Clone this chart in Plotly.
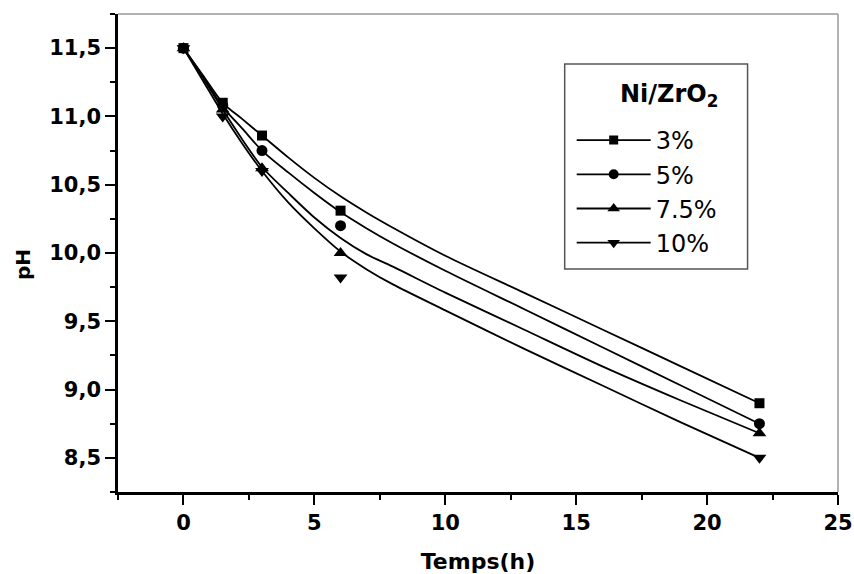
import plotly.graph_objects as go

# Measured data points
time_h = [0, 1.5, 3, 6, 22]
ph_3 = [11.5, 11.10, 10.86, 10.31, 8.90]
ph_5 = [11.5, 11.08, 10.75, 10.20, 8.75]
ph_75 = [11.5, 11.05, 10.62, 10.00, 8.68]
ph_10 = [11.5, 11.00, 10.60, 9.82, 8.50]

# Fitted curves at selected times
curve_t = [0, 0.75, 1.5, 2.25, 3, 4, 5, 6, 7, 8, 10, 13, 16, 19, 22]
curve_3 = [11.5, 11.30, 11.10, 10.98, 10.86, 10.70, 10.55, 10.415, 10.295, 10.185, 9.98, 9.71, 9.44, 9.17, 8.90]
curve_5 = [11.5, 11.29, 11.07, 10.91, 10.75, 10.59, 10.44, 10.30, 10.18, 10.07, 9.87, 9.59, 9.31, 9.03, 8.75]
curve_75 = [11.5, 11.28, 11.05, 10.83, 10.63, 10.44, 10.26, 10.11, 9.99, 9.90, 9.71, 9.44, 9.17, 8.92, 8.68]
curve_10 = [11.5, 11.26, 11.02, 10.80, 10.60, 10.37, 10.18, 10.01, 9.88, 9.77, 9.58, 9.30, 9.03, 8.76, 8.50]

labels = ["3%", "5%", "7.5%", "10%"]
symbols = ["square", "circle", "triangle-up", "triangle-down"]
sizes = [10, 11, 12, 12]
points = [ph_3, ph_5, ph_75, ph_10]
curves = [curve_3, curve_5, curve_75, curve_10]

FONT = "DejaVu Sans"
fig = go.Figure()
for lab, sym, sz, pts, cur in zip(labels, symbols, sizes, points, curves):
    fig.add_trace(go.Scatter(x=curve_t, y=cur, mode="lines",
                             line=dict(color="black", width=1.8, shape="spline", smoothing=0.8),
                             showlegend=False, hoverinfo="skip"))
    fig.add_trace(go.Scatter(x=time_h, y=pts, mode="markers", marker=dict(symbol=sym, size=sz, color="black"),
                             showlegend=False, name=lab))
    fig.add_trace(go.Scatter(x=[None], y=[None], mode="lines+markers", name=lab, legendgroup=lab,
                             line=dict(color="black", width=1.8), marker=dict(symbol=sym, size=sz - 1, color="black")))

L, R, T, B = 118, 15.5, 14, 82
W, H = 854, 574
pw, ph = W - L - R, H - T - B


def px(xp):
    return (xp - L) / pw


def py(yp):
    return (H - B - yp) / ph


fig.update_layout(
    width=W, height=H,
    margin=dict(l=L, r=R, t=T, b=B, autoexpand=False),
    paper_bgcolor="white", plot_bgcolor="white",
    separators=", ",
    font=dict(family=FONT, color="black"),
    showlegend=True,
    legend=dict(
        x=px(572), y=py(118), xanchor="left", yanchor="top",
        borderwidth=0, bgcolor="rgba(0,0,0,0)",
        font=dict(family=FONT, size=24, color="black"),
        itemwidth=74, tracegroupgap=0,
    ),
    xaxis=dict(
        range=[-2.5, 25], tick0=0, dtick=5, ticks="outside", ticklen=10, tickwidth=2, tickcolor="black",
        showline=True, linecolor="black", linewidth=2.5, showgrid=False, zeroline=False, automargin=False,
        tickfont=dict(family=FONT, size=21, color="black", weight="bold"),
        minor=dict(dtick=2.5, tick0=0, ticks="outside", ticklen=5, tickwidth=2, tickcolor="black", showgrid=False),
        title=dict(text="<b>Temps(h)</b>", font=dict(family=FONT, size=22, color="black"), standoff=22),
    ),
    yaxis=dict(
        range=[8.25, 11.75], tick0=8.5, dtick=0.5, tickformat=".1f", ticks="outside", ticklen=10, tickwidth=2,
        tickcolor="black", showline=True, linecolor="black", linewidth=2.5, showgrid=False, zeroline=False,
        automargin=False,
        tickfont=dict(family=FONT, size=21, color="black", weight="bold"),
        minor=dict(dtick=0.25, tick0=8.5, ticks="outside", ticklen=5, tickwidth=2, tickcolor="black", showgrid=False),
    ),
    shapes=[
        dict(type="line", xref="paper", yref="paper", x0=0, x1=1, y0=1, y1=1, line=dict(color="#999", width=1.5)),
        dict(type="line", xref="paper", yref="paper", x0=1, x1=1, y0=0, y1=1, line=dict(color="#999", width=1.5)),
        dict(type="rect", xref="paper", yref="paper", x0=px(565), x1=px(748), y0=py(269), y1=py(64),
             line=dict(color="#555", width=1.5), fillcolor="rgba(0,0,0,0)"),
    ],
    annotations=[
        dict(text="<b>pH</b>", xref="paper", yref="paper", x=px(23), y=py(265),
             showarrow=False, textangle=-90, font=dict(family=FONT, size=20, color="black"),
             xanchor="center", yanchor="middle"),
        dict(text="<b>Ni/ZrO<sub>2</sub></b>", xref="paper", yref="paper", x=px(669), y=py(96),
             showarrow=False, font=dict(family=FONT, size=24, color="black"),
             xanchor="center", yanchor="middle"),
    ],
)

fig.write_html("out.html")
